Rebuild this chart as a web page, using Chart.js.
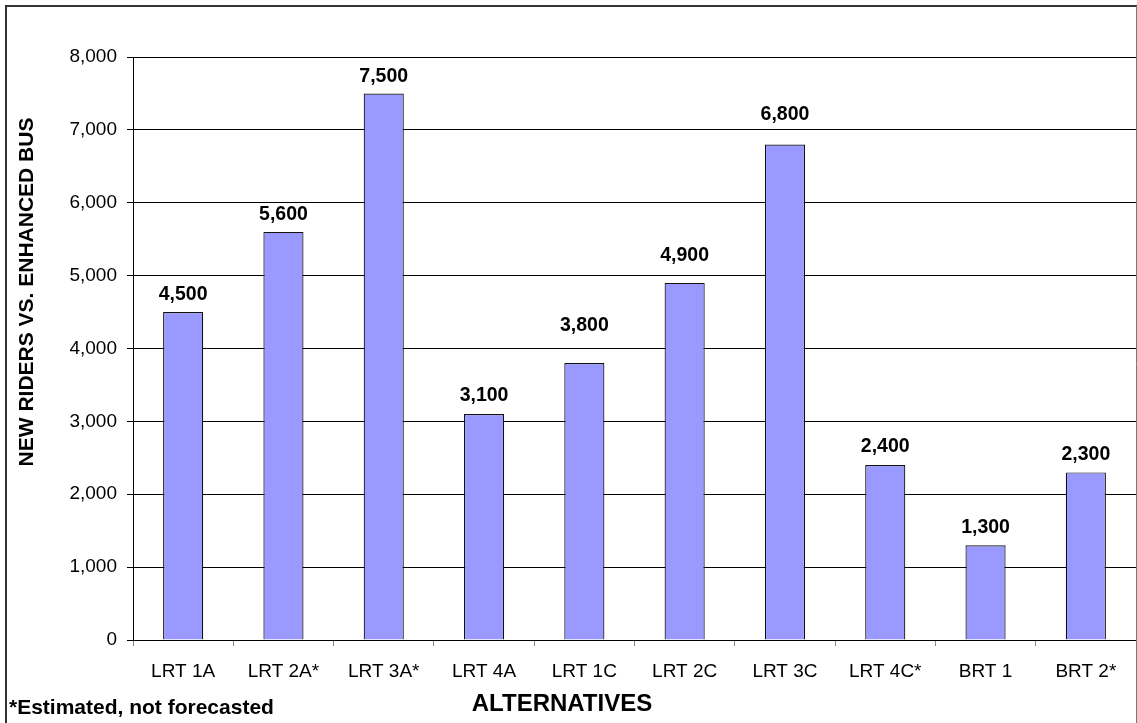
<!DOCTYPE html>
<html><head><meta charset="utf-8">
<script src="https://cdn.jsdelivr.net/npm/chart.js@4.4.1/dist/chart.umd.min.js"></script>
<style>html,body{margin:0;padding:0;background:#fff;overflow:hidden}#wrap{width:1137px;height:723px;position:relative}</style>
</head><body><div id="wrap"><canvas id="c" width="1137" height="723"></canvas></div>
<script>
const categories = ['LRT 1A','LRT 2A*','LRT 3A*','LRT 4A','LRT 1C','LRT 2C','LRT 3C','LRT 4C*','BRT 1','BRT 2*'];
const newRiders = [4500,5600,7500,3100,3800,4900,6800,2400,1300,2300];
const yTickValues = [0,1000,2000,3000,4000,5000,6000,7000,8000];
const yTitle = 'NEW RIDERS VS. ENHANCED BUS';
const xTitle = 'ALTERNATIVES';
const footnote = '*Estimated, not forecasted';

const FONT = '"Liberation Sans", Arial, sans-serif';

const decorPlugin = {
  id: 'decor',
  beforeDraw(chart) {
    const ctx = chart.ctx;
    ctx.save();
    ctx.fillStyle = '#fff';
    ctx.fillRect(0, 0, chart.width, chart.height);
    ctx.restore();
  },
  afterDraw(chart, args, opts) {
    const ctx = chart.ctx;
    ctx.save();
    // outer frame
    ctx.strokeStyle = '#333';
    ctx.lineWidth = 2;
    ctx.beginPath();
    ctx.moveTo(6, chart.height + 2);
    ctx.lineTo(6, 6);
    ctx.lineTo(chart.width + 2, 6);
    ctx.stroke();
    ctx.strokeStyle = '#777';
    ctx.lineWidth = 1;
    ctx.beginPath();
    ctx.moveTo(1136.5, 6);
    ctx.lineTo(1136.5, chart.height);
    ctx.stroke();
    // titles
    ctx.fillStyle = '#000';
    ctx.textAlign = 'center';
    ctx.textBaseline = 'middle';
    ctx.font = 'bold 21px ' + FONT;
    ctx.save();
    ctx.translate(27, 292);
    ctx.rotate(-Math.PI / 2);
    ctx.fillText(yTitle, 0, 0);
    ctx.restore();
    ctx.font = 'bold 24px ' + FONT;
    ctx.fillText(xTitle, 562, 704);
    ctx.textAlign = 'left';
    ctx.font = 'bold 21px ' + FONT;
    ctx.fillText(footnote, 9, 708);
    ctx.restore();
  }
};

const labelPlugin = {
  id: 'barLabels',
  afterDatasetsDraw(chart, args, opts) {
    const ctx = chart.ctx;
    const meta = chart.getDatasetMeta(0);
    ctx.save();
    ctx.fillStyle = '#000';
    ctx.font = 'bold 19.5px ' + FONT;
    ctx.textAlign = 'center';
    ctx.textBaseline = 'middle';
    meta.data.forEach((bar, i) => {
      const v = chart.data.datasets[0].data[i];
      const off = opts.offsets[i] || 17;
      ctx.fillText(v.toLocaleString('en-US'), bar.x, bar.y - off);
    });
    ctx.restore();
  }
};

new Chart(document.getElementById('c'), {
  type: 'bar',
  data: {
    labels: categories,
    datasets: [{
      data: newRiders,
      backgroundColor: '#9999FF',
      borderColor: '#111',
      borderWidth: 1.2,
      categoryPercentage: 1.0,
      barPercentage: 0.4
    }]
  },
  options: {
    responsive: false,
    animation: false,
    devicePixelRatio: 1,
    layout: { padding: { left: 0, top: 57, right: 1, bottom: 0 } },
    plugins: {
      legend: { display: false },
      tooltip: { enabled: false },
      barLabels: { offsets: [17, 17, 17, 18, 37, 27, 30, 18, 18, 18] }
    },
    scales: {
      x: {
        offset: true,
        grid: { drawOnChartArea: false, drawTicks: true, tickLength: 6, color: '#888', offset: true },
        border: { display: true, color: '#000', width: 1 },
        ticks: { color: '#000', font: { family: FONT, size: 19 }, padding: 14, maxRotation: 0, autoSkip: false },
        afterFit(s) { s.height = 83; }
      },
      y: {
        min: 0,
        max: 8000,
        afterBuildTicks(s) { s.ticks = yTickValues.map(v => ({ value: v })); },
        grid: { color: '#000', lineWidth: 1, drawTicks: true, tickLength: 6 },
        border: { display: true, color: '#000', width: 1 },
        ticks: { color: '#000', font: { family: FONT, size: 19 }, padding: 10,
          callback: v => Number(v).toLocaleString('en-US') },
        afterFit(s) { s.width = 133; }
      }
    }
  },
  plugins: [decorPlugin, labelPlugin]
});
</script>
</body></html>
